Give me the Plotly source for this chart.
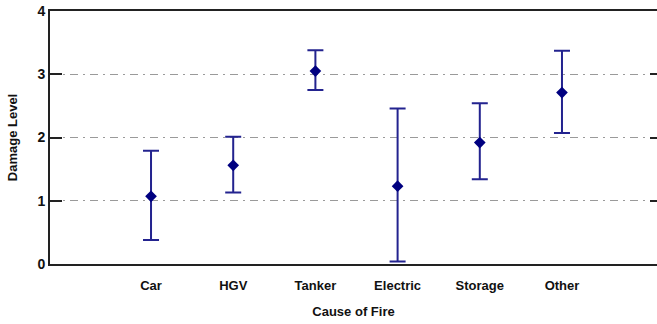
import plotly.graph_objects as go

categories = ["Car", "HGV", "Tanker", "Electric", "Storage", "Other"]
mean_damage = [1.07, 1.56, 3.05, 1.23, 1.92, 2.71]
upper_limit = [1.79, 2.01, 3.38, 2.46, 2.54, 3.37]
lower_limit = [0.38, 1.13, 2.75, 0.04, 1.34, 2.07]
y_ticks = [0, 1, 2, 3, 4]

xpos = list(range(1, len(categories) + 1))
err_plus = [u - m for u, m in zip(upper_limit, mean_damage)]
err_minus = [m - l for m, l in zip(mean_damage, lower_limit)]

font_family = "Liberation Sans, Arial, sans-serif"

fig = go.Figure()
fig.add_trace(go.Scatter(
    x=xpos, y=mean_damage, mode="markers",
    marker=dict(symbol="diamond", size=9, color="#000080"),
    error_y=dict(type="data", symmetric=False, array=err_plus, arrayminus=err_minus,
                 color="#23238f", thickness=2, width=8),
    showlegend=False,
))
# invisible trace for right-side ticks
fig.add_trace(go.Scatter(x=[xpos[0]], y=[None], yaxis="y2", showlegend=False, hoverinfo="skip"))

fig.update_layout(
    width=657, height=324,
    margin=dict(l=50, r=0, t=11, b=60),
    paper_bgcolor="white", plot_bgcolor="white",
    font=dict(family=font_family, color="#111111"),
    xaxis=dict(
        range=[-0.229, 7.156], tickmode="array", tickvals=xpos, ticktext=categories,
        showgrid=False, zeroline=False, showline=True, linecolor="#222222", linewidth=2,
        mirror=True, ticks="", ticklabelstandoff=8, automargin=False,
        tickfont=dict(size=13, family=font_family, weight="bold", color="#111111"),
        title=dict(text="Cause of Fire", standoff=15,
                   font=dict(size=13, family=font_family, weight="bold", color="#111111")),
    ),
    yaxis=dict(
        range=[0, 4], tickmode="array", tickvals=y_ticks, automargin=False,
        showgrid=True, gridcolor="#9a9a9a", griddash="8px,5px,2px,5px", gridwidth=1,
        zeroline=False, showline=True, linecolor="#222222", linewidth=2,
        ticks="inside", ticklen=12, tickwidth=2, tickcolor="#222222",
        tickfont=dict(size=14, family=font_family, weight="bold", color="#111111"),
        title=dict(text="Damage Level", standoff=17,
                   font=dict(size=13, family=font_family, weight="bold", color="#111111")),
    ),
    yaxis2=dict(
        range=[0, 4], overlaying="y", side="right", tickmode="array", tickvals=y_ticks,
        showgrid=False, zeroline=False, showline=False, showticklabels=False,
        automargin=False,
        ticks="inside", ticklen=7, tickwidth=2, tickcolor="#222222",
    ),
)

fig.write_html("out.html", config={"displayModeBar": False},
               post_script="document.body.style.margin='0';")
